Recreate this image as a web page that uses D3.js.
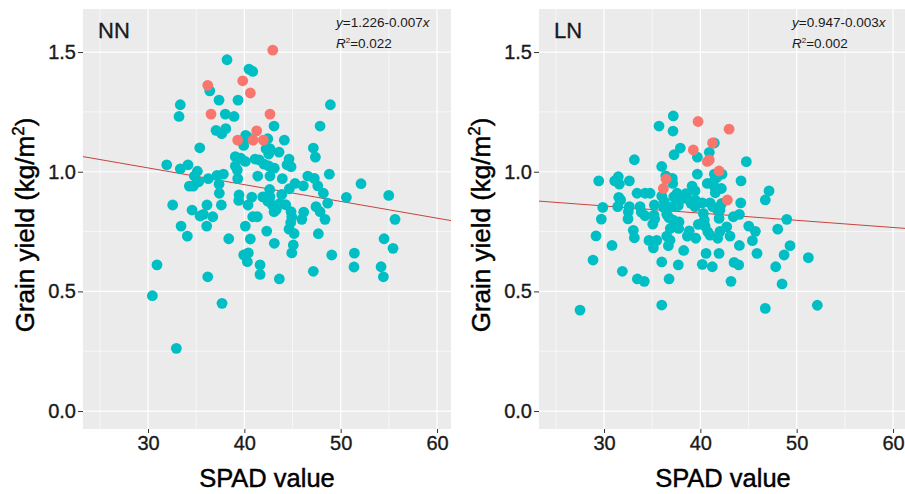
<!DOCTYPE html>
<html><head><meta charset="utf-8">
<script src="https://cdn.jsdelivr.net/npm/d3@7"></script>
<style>
body{margin:0;background:#fff}
svg{display:block}
text{font-family:"Liberation Sans",Arial,Helvetica,sans-serif}
</style>
</head><body>
<svg id="chart" width="905" height="494"></svg>
<script>
// ---------- data ----------
const xTicks = [30, 40, 50, 60];
const yTicks = [0, 0.5, 1.0, 1.5];
const xMinor = [25, 35, 45, 55];
const yMinor = [0.25, 0.75, 1.25];
const xDomain = [23.25, 61.45];
const yDomain = [-0.075, 1.68];

// NN panel
const nnSpad = [38.2,40.48,40.87,36.41,33.35,33.22,37.37,39.34,38.02,38.93,37.06,37.65,38.07,43.08,40.14,40.41,39.93,42.43,44.15,35.37,
 42.25,42.66,42.53,43.6,39.06,39.62,40.1,41.11,41.55,42.04,42.53,43.11,44.64,44.43,44.85,39.06,39.27,31.94,33.35,34.15,
 35.12,34.81,37.16,37.82,36.26,39.31,41.39,42.66,43.94,45.26,44.67,34.29,34.7,35.26,37.37,37.4,39.45,40.77,41.91,42.66,
 43.88,42.63,48.93,47.86,47.16,47.37,48.82,46.58,47.26,46.12,47.62,52.11,48.2,50.59,54.99,39.42,40.38,42.43,42.9,43.08,
 43.32,43.7,44.29,44.85,44.92,44.81,44.64,45.16,45.08,44.92,45.96,32.56,34.57,36.12,37.61,35.4,35.74,36.72,36.09,33.43,
 34.08,40.1,40.87,41.35,42.32,40.62,38.38,43.11,39.93,40.41,40.31,41.63,41.63,43.63,30.93,36.2,30.45,37.68,32.94,48.65,
 47.44,47.86,48.37,46.16,47.68,55.64,54.5,55.43,49.07,51.42,51.38,54.19,54.43,47.16];
const nnYield = [1.468,1.429,1.419,1.338,1.28,1.231,1.299,1.299,1.241,1.231,1.173,1.159,1.18,1.191,1.152,1.142,1.11,1.138,1.132,1.1,
 1.096,1.096,1.074,1.082,1.063,1.057,1.043,1.053,1.049,1.032,1.024,1.015,1.053,1.029,1.021,1.024,1.007,1.029,1.012,1.029,
 1.002,0.982,0.985,0.99,0.971,0.971,0.982,0.982,0.971,0.951,0.929,0.94,0.94,0.958,0.948,0.91,0.903,0.894,0.895,0.895,
 0.905,0.926,1.28,1.191,1.099,1.061,0.99,0.982,0.972,0.941,0.941,0.95,0.91,0.893,0.901,0.88,0.861,0.877,0.861,0.833,
 0.843,0.868,0.862,0.833,0.812,0.788,0.76,0.742,0.694,0.661,0.801,0.861,0.84,0.861,0.861,0.815,0.822,0.812,0.773,0.773,
 0.731,0.773,0.812,0.812,0.752,0.719,0.72,0.701,0.652,0.661,0.624,0.611,0.571,0.552,0.611,0.561,0.482,0.45,0.262,0.869,
 0.854,0.833,0.801,0.831,0.741,0.801,0.72,0.68,0.652,0.66,0.602,0.603,0.561,0.584];
const nnTopSpad  = [42.95,36.2,39.83,40.62,36.54,42.66,41.28,39.31,40.9,41.97];
const nnTopYield = [1.508,1.361,1.38,1.329,1.241,1.241,1.171,1.132,1.132,1.132];

// LN panel
const lnSpad = [37.19,35.71,37.16,37.92,37.27,33.15,35.99,36.41,37.09,37.13,29.45,31.11,31.48,31.59,32.63,33.43,34.26,34.78,35.99,36.26,
 36.2,37.24,37.58,37.89,37.71,37.13,31.53,31.73,29.87,31.42,32.63,32.52,33.74,33.87,34.26,35.22,35.19,35.26,35.06,36.51,
 36.75,37.19,36.88,37.79,37.75,29.72,32.49,29.17,30.83,33.04,33.15,34.67,35.47,35.12,36.51,36.85,36.68,28.86,31.9,33.46,
 34.18,35.99,37.71,36.75,27.51,35.99,
 41.45,40.93,39.69,44.77,39.69,41.45,41.94,42.25,41.7,41.35,44.22,40.72,39.14,39.45,41.49,42.18,41.55,47.13,46.74,38.48,
 38.65,39.45,39.03,39.45,39.62,40.2,41.0,41.28,41.73,42.22,42.04,44.19,40.31,41.94,43.42,44.05,48.97,40.41,40.49,39.79,
 38.85,38.65,40.77,41.0,42.04,42.74,45.02,45.71,48.03,39.52,41.8,43.08,45.4,44.05,49.31,38.27,40.59,41.94,45.88,48.69,
 51.21,40.2,41.24,43.5,43.98,47.82,43.18,48.48,46.74,52.14];
const lnYield = [1.233,1.191,1.17,1.099,1.071,1.05,1.022,0.983,0.972,0.951,0.962,0.962,0.979,0.948,0.962,0.91,0.91,0.91,0.898,0.875,
 0.851,0.895,0.91,0.882,0.859,0.854,0.893,0.882,0.851,0.854,0.854,0.833,0.854,0.831,0.816,0.861,0.819,0.802,0.781,0.822,
 0.808,0.798,0.763,0.79,0.763,0.802,0.803,0.732,0.692,0.755,0.724,0.713,0.713,0.682,0.731,0.714,0.691,0.631,0.584,0.552,
 0.542,0.623,0.611,0.552,0.422,0.443,
 1.12,1.081,1.061,1.042,0.99,0.99,0.996,0.99,0.976,0.958,0.962,0.951,0.94,0.92,0.935,0.93,0.912,0.92,0.882,0.908,
 0.887,0.882,0.868,0.854,0.875,0.87,0.87,0.854,0.843,0.868,0.84,0.87,0.826,0.805,0.812,0.822,0.801,0.798,0.773,0.78,
 0.753,0.731,0.749,0.735,0.751,0.77,0.773,0.751,0.76,0.722,0.722,0.731,0.712,0.692,0.691,0.671,0.659,0.659,0.659,0.652,
 0.641,0.613,0.603,0.621,0.611,0.603,0.542,0.531,0.429,0.442];
const lnTopSpad  = [39.76,42.98,41.26,39.27,40.72,40.93,41.94,36.44,36.16,42.8];
const lnTopYield = [1.21,1.178,1.12,1.091,1.043,1.049,1.003,0.969,0.93,0.882];

const panelNames = ["NN", "LN"];
const intercepts = [1.226, 0.947];
const slopes = [-0.007, -0.003];
const r2Values = ["0.022", "0.002"];

// ---------- drawing ----------
const svg = d3.select("#chart");
const W = 368, H = 420, panelTop = 9;
const lefts = [83, 539];
const x = d3.scaleLinear().domain(xDomain).range([0, W]);
const y = d3.scaleLinear().domain(yDomain).range([H, 0]);

const datasets = [
  {teal: d3.zip(nnSpad, nnYield), red: d3.zip(nnTopSpad, nnTopYield)},
  {teal: d3.zip(lnSpad, lnYield), red: d3.zip(lnTopSpad, lnTopYield)}
];

panelNames.forEach((name, i) => {
  const g = svg.append("g").attr("transform", `translate(${lefts[i]},${panelTop})`);
  const clipId = "clip" + i;
  g.append("clipPath").attr("id", clipId).append("rect").attr("width", W).attr("height", H);
  g.append("rect").attr("width", W).attr("height", H).attr("fill", "#EBEBEB");

  g.selectAll(".vminor").data(xMinor).join("line")
    .attr("x1", d => x(d)).attr("x2", d => x(d)).attr("y1", 0).attr("y2", H)
    .attr("stroke", "#fff").attr("stroke-width", 0.6);
  g.selectAll(".hminor").data(yMinor).join("line")
    .attr("y1", d => y(d)).attr("y2", d => y(d)).attr("x1", 0).attr("x2", W)
    .attr("stroke", "#fff").attr("stroke-width", 0.6);
  g.selectAll(".vmajor").data(xTicks).join("line")
    .attr("x1", d => x(d)).attr("x2", d => x(d)).attr("y1", 0).attr("y2", H)
    .attr("stroke", "#fff").attr("stroke-width", 1.2);
  g.selectAll(".hmajor").data(yTicks).join("line")
    .attr("y1", d => y(d)).attr("y2", d => y(d)).attr("x1", 0).attr("x2", W)
    .attr("stroke", "#fff").attr("stroke-width", 1.2);

  const plot = g.append("g").attr("clip-path", `url(#${clipId})`);
  plot.append("line")
    .attr("x1", x(xDomain[0])).attr("y1", y(intercepts[i] + slopes[i] * xDomain[0]))
    .attr("x2", x(xDomain[1])).attr("y2", y(intercepts[i] + slopes[i] * xDomain[1]))
    .attr("stroke", "#C8423E").attr("stroke-width", 1);

  plot.selectAll(".teal").data(datasets[i].teal).join("circle")
    .attr("cx", d => x(d[0])).attr("cy", d => y(d[1])).attr("r", 5.4).attr("fill", "#00BFC4");
  plot.selectAll(".red").data(datasets[i].red).join("circle")
    .attr("cx", d => x(d[0])).attr("cy", d => y(d[1])).attr("r", 5.4).attr("fill", "#F8766D");

  const ax = g.append("g").attr("transform", `translate(0,${H})`)
    .call(d3.axisBottom(x).tickValues(xTicks).tickSize(4).tickPadding(3).tickFormat(d3.format("d")));
  const ay = g.append("g")
    .call(d3.axisLeft(y).tickValues(yTicks).tickSize(5).tickPadding(2).tickFormat(d3.format(".1f")));
  [ax, ay].forEach(a => {
    a.select(".domain").remove();
    a.selectAll(".tick line").attr("stroke", "#333");
    a.selectAll(".tick text").attr("fill", "#1a1a1a").style("font-size", "20px")
      .attr("stroke", "#1a1a1a").attr("stroke-width", 0.35)
      .style("font-family", '"Liberation Sans",Arial,sans-serif');
  });

  g.append("text").attr("x", 15).attr("y", 29).style("font-size", "22px")
    .attr("fill", "#1a1a1a").attr("stroke", "#1a1a1a").attr("stroke-width", 0.3).text(name);

  const eq = g.append("text").attr("x", 253).attr("y", 17.5).style("font-size", "13.5px").attr("fill", "#1a1a1a");
  eq.append("tspan").style("font-style", "italic").text("y");
  eq.append("tspan").text(`=${intercepts[i].toFixed(3)}-${Math.abs(slopes[i]).toFixed(3)}`);
  eq.append("tspan").style("font-style", "italic").text("x");
  const rt = g.append("text").attr("x", 253).attr("y", 38.5).style("font-size", "13.5px").attr("fill", "#1a1a1a");
  rt.append("tspan").style("font-style", "italic").text("R");
  rt.append("tspan").attr("dy", -5).style("font-size", "8px").text("2");
  rt.append("tspan").attr("dy", 5).text("=" + r2Values[i]);

  g.append("text").attr("x", W / 2).attr("y", 487 - panelTop).attr("text-anchor", "middle")
    .style("font-size", "25.5px").attr("fill", "#000").attr("stroke", "#000").attr("stroke-width", 0.45)
    .text("SPAD value");
  const yt = g.append("text").attr("transform", `translate(-49.5,${225 - panelTop}) rotate(-90)`)
    .attr("text-anchor", "middle").style("font-size", "26px")
    .attr("fill", "#000").attr("stroke", "#000").attr("stroke-width", 0.45);
  yt.append("tspan").text("Grain yield (kg/m");
  yt.append("tspan").attr("dy", -10).style("font-size", "17px").text("2");
  yt.append("tspan").attr("dy", 10).text(")");
});
</script>
</body></html>
